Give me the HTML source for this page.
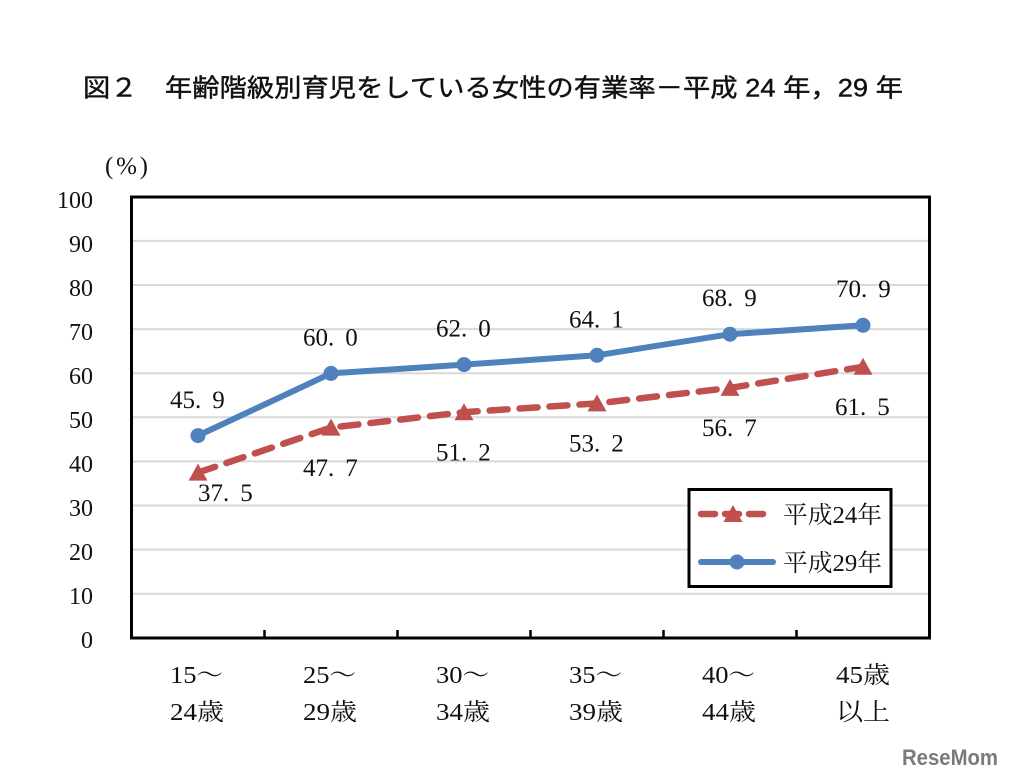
<!DOCTYPE html>
<html><head><meta charset="utf-8"><style>
html,body{margin:0;padding:0;background:#fff;}
svg{display:block;}
.s{font-family:"Liberation Serif","Noto Serif CJK SC","Noto Sans CJK JP",serif;fill:#111;}
.g{font-family:"Liberation Sans","Noto Sans CJK JP",sans-serif;fill:#111;}
</style></head><body>
<svg width="1012" height="779" viewBox="0 0 1012 779" xmlns="http://www.w3.org/2000/svg">
<rect width="1012" height="779" fill="#fff"/>
<text class="g" x="83" y="96.5" font-size="25" textLength="820" lengthAdjust="spacingAndGlyphs" stroke="#111" stroke-width="0.4">図２　年齢階級別育児をしている女性の有業率－平成 24 年，29 年</text>
<text class="s" x="105" y="174" font-size="25" textLength="43" lengthAdjust="spacing">(%)</text>
<g stroke="#d9d9d9" stroke-width="2">
<line x1="133" y1="240.9" x2="929" y2="240.9"/>
<line x1="133" y1="285" x2="929" y2="285"/>
<line x1="133" y1="329.1" x2="929" y2="329.1"/>
<line x1="133" y1="373.2" x2="929" y2="373.2"/>
<line x1="133" y1="417.3" x2="929" y2="417.3"/>
<line x1="133" y1="461.4" x2="929" y2="461.4"/>
<line x1="133" y1="505.5" x2="929" y2="505.5"/>
<line x1="133" y1="549.6" x2="929" y2="549.6"/>
<line x1="133" y1="593.7" x2="929" y2="593.7"/>
</g>
<rect x="131.5" y="197" width="798" height="441" fill="none" stroke="#000" stroke-width="3"/>
<g stroke="#000" stroke-width="2.5">
<line x1="264.5" y1="630" x2="264.5" y2="638"/>
<line x1="397.5" y1="630" x2="397.5" y2="638"/>
<line x1="530.5" y1="630" x2="530.5" y2="638"/>
<line x1="663.5" y1="630" x2="663.5" y2="638"/>
<line x1="796.5" y1="630" x2="796.5" y2="638"/>
</g>
<g class="s" font-size="24" text-anchor="end">
<text x="93" y="208">100</text>
<text x="93" y="252">90</text>
<text x="93" y="296">80</text>
<text x="93" y="340">70</text>
<text x="93" y="384">60</text>
<text x="93" y="428">50</text>
<text x="93" y="472">40</text>
<text x="93" y="516">30</text>
<text x="93" y="560">20</text>
<text x="93" y="604">10</text>
<text x="93" y="648">0</text>
</g>
<!-- red series -->
<polyline points="198,472.6 331,427.6 464,412.2 597,403.4 730,387.9 863,366.8" fill="none" stroke="#c0504d" stroke-width="6.5" stroke-dasharray="18 12" stroke-linecap="round" stroke-linejoin="round"/>
<g fill="#c0504d">
<polygon points="198,463.6 207.5,480.6 188.5,480.6"/>
<polygon points="331,418.6 340.5,435.6 321.5,435.6"/>
<polygon points="464,403.2 473.5,420.2 454.5,420.2"/>
<polygon points="597,394.4 606.5,411.4 587.5,411.4"/>
<polygon points="730,378.9 739.5,395.9 720.5,395.9"/>
<polygon points="863,357.8 872.5,374.8 853.5,374.8"/>
</g>
<!-- blue series -->
<polyline points="198,435.6 331,373.4 464,364.6 597,355.3 730,334.2 863,325.3" fill="none" stroke="#4f81bd" stroke-width="6" stroke-linejoin="round" stroke-linecap="round"/>
<g fill="#4f81bd">
<circle cx="198" cy="435.6" r="7.5"/>
<circle cx="331" cy="373.4" r="7.5"/>
<circle cx="464" cy="364.6" r="7.5"/>
<circle cx="597" cy="355.3" r="7.5"/>
<circle cx="730" cy="334.2" r="7.5"/>
<circle cx="863" cy="325.3" r="7.5"/>
</g>
<g class="s" font-size="25">
<text x="170" y="408">45.<tspan dx="11">9</tspan></text>
<text x="303" y="345.5">60.<tspan dx="11">0</tspan></text>
<text x="436" y="336.5">62.<tspan dx="11">0</tspan></text>
<text x="569" y="327.5">64.<tspan dx="11">1</tspan></text>
<text x="702" y="306">68.<tspan dx="11">9</tspan></text>
<text x="836" y="297">70.<tspan dx="11">9</tspan></text>
<text x="198" y="501">37.<tspan dx="11">5</tspan></text>
<text x="303" y="476">47.<tspan dx="11">7</tspan></text>
<text x="436" y="460.5">51.<tspan dx="11">2</tspan></text>
<text x="569" y="451.5">53.<tspan dx="11">2</tspan></text>
<text x="702" y="436">56.<tspan dx="11">7</tspan></text>
<text x="835" y="415">61.<tspan dx="11">5</tspan></text>
</g>
<!-- legend -->
<rect x="689" y="489.5" width="202" height="97" fill="#fff" stroke="#000" stroke-width="3"/>
<line x1="701" y1="514" x2="766" y2="514" stroke="#c0504d" stroke-width="6.5" stroke-dasharray="14 10" stroke-linecap="round"/>
<polygon points="733,505 742.5,522 723.5,522" fill="#c0504d"/>
<line x1="701" y1="562" x2="773" y2="562" stroke="#4f81bd" stroke-width="6" stroke-linecap="round"/>
<circle cx="737" cy="562" r="7.5" fill="#4f81bd"/>
<text class="s" x="783" y="523" font-size="24" textLength="99" lengthAdjust="spacingAndGlyphs">平成24年</text>
<text class="s" x="783" y="571" font-size="24" textLength="99" lengthAdjust="spacingAndGlyphs">平成29年</text>
<!-- x labels -->
<g class="s" font-size="24">
<text x="170" y="683" textLength="53" lengthAdjust="spacingAndGlyphs">15～</text>
<text x="170" y="720" textLength="54" lengthAdjust="spacingAndGlyphs">24歳</text>
<text x="303" y="683" textLength="53" lengthAdjust="spacingAndGlyphs">25～</text>
<text x="303" y="720" textLength="54" lengthAdjust="spacingAndGlyphs">29歳</text>
<text x="436" y="683" textLength="53" lengthAdjust="spacingAndGlyphs">30～</text>
<text x="436" y="720" textLength="54" lengthAdjust="spacingAndGlyphs">34歳</text>
<text x="569" y="683" textLength="53" lengthAdjust="spacingAndGlyphs">35～</text>
<text x="569" y="720" textLength="54" lengthAdjust="spacingAndGlyphs">39歳</text>
<text x="702" y="683" textLength="53" lengthAdjust="spacingAndGlyphs">40～</text>
<text x="702" y="720" textLength="54" lengthAdjust="spacingAndGlyphs">44歳</text>
<text x="836" y="683" textLength="54" lengthAdjust="spacingAndGlyphs">45歳</text>
<text x="836" y="720" textLength="54" lengthAdjust="spacingAndGlyphs">以上</text>
</g>
<text x="902" y="765" font-family="Liberation Sans, sans-serif" font-weight="bold" font-size="22" fill="#7a7a7a" textLength="96" lengthAdjust="spacingAndGlyphs">ReseMom</text>
</svg>
</body></html>
